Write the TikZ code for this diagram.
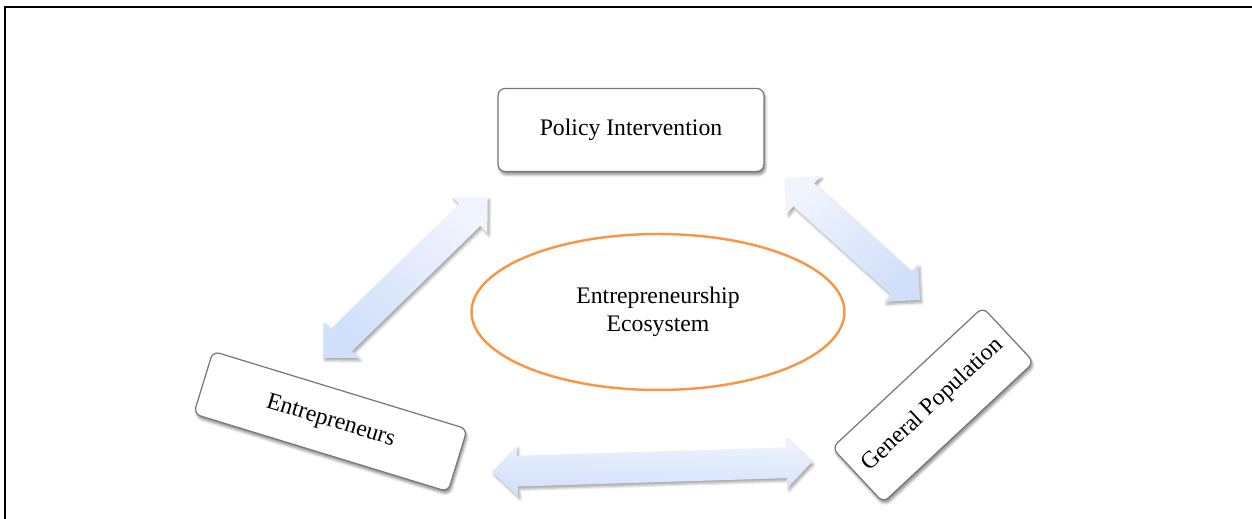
\documentclass[tikz,border=0pt]{standalone}
\usepackage{fontspec}
\setmainfont{Liberation Serif}
\usepackage{tikz}
\usetikzlibrary{shapes.geometric,shapes.arrows,shadows.blur}
\definecolor{ecoorange}{RGB}{247,150,70}
\definecolor{arrowtop}{RGB}{239,244,253}
\definecolor{arrowbottom}{RGB}{208,223,250}
\definecolor{boxgray}{RGB}{120,120,120}

\begin{document}
\begin{tikzpicture}[x=0.02cm, y=-0.02cm,
    actor/.style={draw=boxgray, line width=0.7pt, fill=white, rounded corners=4pt,
        align=center, font=\fontsize{13.5}{16}\selectfont,
        blur shadow={shadow xshift=0.8pt, shadow yshift=-1.8pt, shadow opacity=45, shadow blur radius=1.5pt}},
    link/.style={double arrow, double arrow tip angle=90, double arrow head extend=0.2cm,
        inner xsep=0pt, inner ysep=0.3cm, draw=none, top color=arrowtop, bottom color=arrowbottom,
        blur shadow={shadow xshift=1pt, shadow yshift=-1.5pt, shadow opacity=35, shadow blur radius=1.5pt}}]
    \useasboundingbox (0,0) rectangle (1252,519);
    \draw[line width=1.1pt] (5,519) -- (5,6.7) -- (1252,6.7);

    \node[actor, minimum width=5.32cm, minimum height=1.66cm] (policy) at (631,130) {Policy Intervention};
    \node[actor, rotate=-17, minimum width=5.32cm, minimum height=1.31cm] (entre) at (330.5,421.5) {Entrepreneurs};
    \node[actor, rotate=43, minimum width=4.12cm, minimum height=1.5cm] (genpop) at (933,405) {General Population};

    \node[ellipse, draw=ecoorange, line width=1.4pt, minimum width=7.46cm, minimum height=3.12cm,
        align=center, font=\fontsize{13.5}{16}\selectfont] (eco) at (658,312) {Entrepreneurship\\Ecosystem};

    \coordinate (ep1) at (323,358);
    \coordinate (ep2) at (488,197);
    \coordinate (pg1) at (785,178);
    \coordinate (pg2) at (920,300);
    \coordinate (eg1) at (492,472);
    \coordinate (eg2) at (812,462);
    \path (ep1) -- node[link, sloped, shading angle=-44, minimum height=4.6cm] (arrEP) {} (ep2);
    \path (pg1) -- node[link, sloped, shading angle=42, minimum height=3.64cm] (arrPG) {} (pg2);
    \path (eg1) -- node[link, sloped, shading angle=-2, minimum height=6.4cm] (arrEG) {} (eg2);
\end{tikzpicture}
\end{document}
